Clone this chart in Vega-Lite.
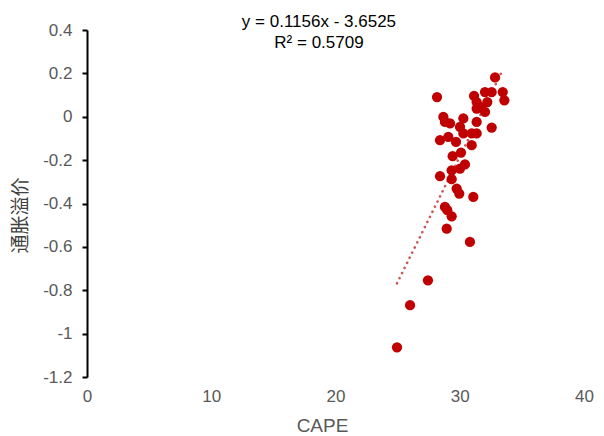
{
  "$schema": "https://vega.github.io/schema/vega-lite/v6.json",
  "width": 497,
  "height": 347,
  "autosize": {"type": "none"},
  "padding": {"left": 87, "top": 30, "right": 20, "bottom": 59},
  "background": "white",
  "config": {
    "view": {"stroke": null},
    "font": "Liberation Sans"
  },
  "datasets": {
    "pts": [
      {"cape": 32.84, "premium": 0.181},
      {"cape": 28.17, "premium": 0.091},
      {"cape": 31.15, "premium": 0.096},
      {"cape": 32.03, "premium": 0.114},
      {"cape": 32.57, "premium": 0.114},
      {"cape": 33.46, "premium": 0.114},
      {"cape": 33.59, "premium": 0.076},
      {"cape": 31.36, "premium": 0.068},
      {"cape": 31.63, "premium": 0.045},
      {"cape": 32.22, "premium": 0.068},
      {"cape": 32.03, "premium": 0.022},
      {"cape": 31.36, "premium": 0.038},
      {"cape": 28.68, "premium": -0.001},
      {"cape": 30.29, "premium": -0.008},
      {"cape": 31.36, "premium": -0.024},
      {"cape": 28.81, "premium": -0.024},
      {"cape": 29.22, "premium": -0.031},
      {"cape": 32.57, "premium": -0.05},
      {"cape": 30.02, "premium": -0.047},
      {"cape": 30.29, "premium": -0.077},
      {"cape": 31.36, "premium": -0.077},
      {"cape": 30.96, "premium": -0.077},
      {"cape": 29.08, "premium": -0.093},
      {"cape": 28.41, "premium": -0.108},
      {"cape": 29.7, "premium": -0.116},
      {"cape": 30.96, "premium": -0.131},
      {"cape": 30.1, "premium": -0.165},
      {"cape": 29.43, "premium": -0.182},
      {"cape": 30.42, "premium": -0.22},
      {"cape": 30.02, "premium": -0.239},
      {"cape": 29.35, "premium": -0.247},
      {"cape": 28.41, "premium": -0.274},
      {"cape": 29.35, "premium": -0.288},
      {"cape": 29.75, "premium": -0.331},
      {"cape": 29.96, "premium": -0.354},
      {"cape": 31.09, "premium": -0.37},
      {"cape": 28.81, "premium": -0.416},
      {"cape": 29.0, "premium": -0.431},
      {"cape": 29.35, "premium": -0.459},
      {"cape": 28.95, "premium": -0.516},
      {"cape": 30.82, "premium": -0.577},
      {"cape": 27.44, "premium": -0.754},
      {"cape": 26.0, "premium": -0.869},
      {"cape": 24.95, "premium": -1.063}
    ],
    "trend": [
      {"cape": 24.95, "premium": -0.768},
      {"cape": 33.45, "premium": 0.215}
    ],
    "eq": [
      {"line": "y = 0.1156x - 3.6525", "cape": 18.67, "premium": 0.435},
      {"line": "R² = 0.5709", "cape": 18.67, "premium": 0.34}
    ]
  },
  "layer": [
    {
      "mark": {"type": "rule", "color": "black", "strokeWidth": 2},
      "encoding": {"y": {"datum": 0, "type": "quantitative"}}
    },
    {
      "data": {"name": "trend"},
      "mark": {"type": "line", "color": "#cc5555", "strokeWidth": 2.6, "strokeDash": [0.1, 5.6], "strokeCap": "round"},
      "encoding": {
        "x": {"field": "cape", "type": "quantitative"},
        "y": {"field": "premium", "type": "quantitative"}
      }
    },
    {
      "data": {"name": "pts"},
      "mark": {"type": "circle", "color": "#c00000", "opacity": 1, "size": 105},
      "encoding": {
        "x": {
          "field": "cape", "type": "quantitative",
          "scale": {"domain": [0, 40], "nice": false, "zero": false},
          "axis": {
            "title": "CAPE", "values": [0, 10, 20, 30, 40],
            "domain": false, "ticks": false, "grid": false, "labelFlush": false,
            "labelFontSize": 17, "labelColor": "#595959", "labelPadding": 11,
            "titleFontSize": 19, "titleColor": "#595959", "titleFontWeight": "normal", "titlePadding": 12,
            "titleX": 235
          }
        },
        "y": {
          "field": "premium", "type": "quantitative",
          "scale": {"domain": [-1.2, 0.4], "nice": false, "zero": false},
          "axis": {
            "title": "通胀溢价", "values": [-1.2, -1, -0.8, -0.6, -0.4, -0.2, 0, 0.2, 0.4],
            "format": "~g",
            "labelExpr": "replace(datum.label, '−', '-')",
            "grid": false, "domainColor": "black", "domainWidth": 2, "labelFlush": false,
            "tickColor": "black", "tickWidth": 2, "tickSize": 5,
            "labelFontSize": 17, "labelColor": "#595959", "labelPadding": 10,
            "titleFont": "Noto Sans CJK SC", "titleFontSize": 19, "titleColor": "#404040",
            "titleFontWeight": "normal", "titlePadding": 12, "titleY": 185
          }
        }
      }
    },
    {
      "data": {"name": "eq"},
      "mark": {"type": "text", "fontSize": 17, "color": "black", "align": "center", "baseline": "middle", "clip": false},
      "encoding": {
        "x": {"field": "cape", "type": "quantitative"},
        "y": {"field": "premium", "type": "quantitative"},
        "text": {"field": "line"}
      }
    }
  ]
}
